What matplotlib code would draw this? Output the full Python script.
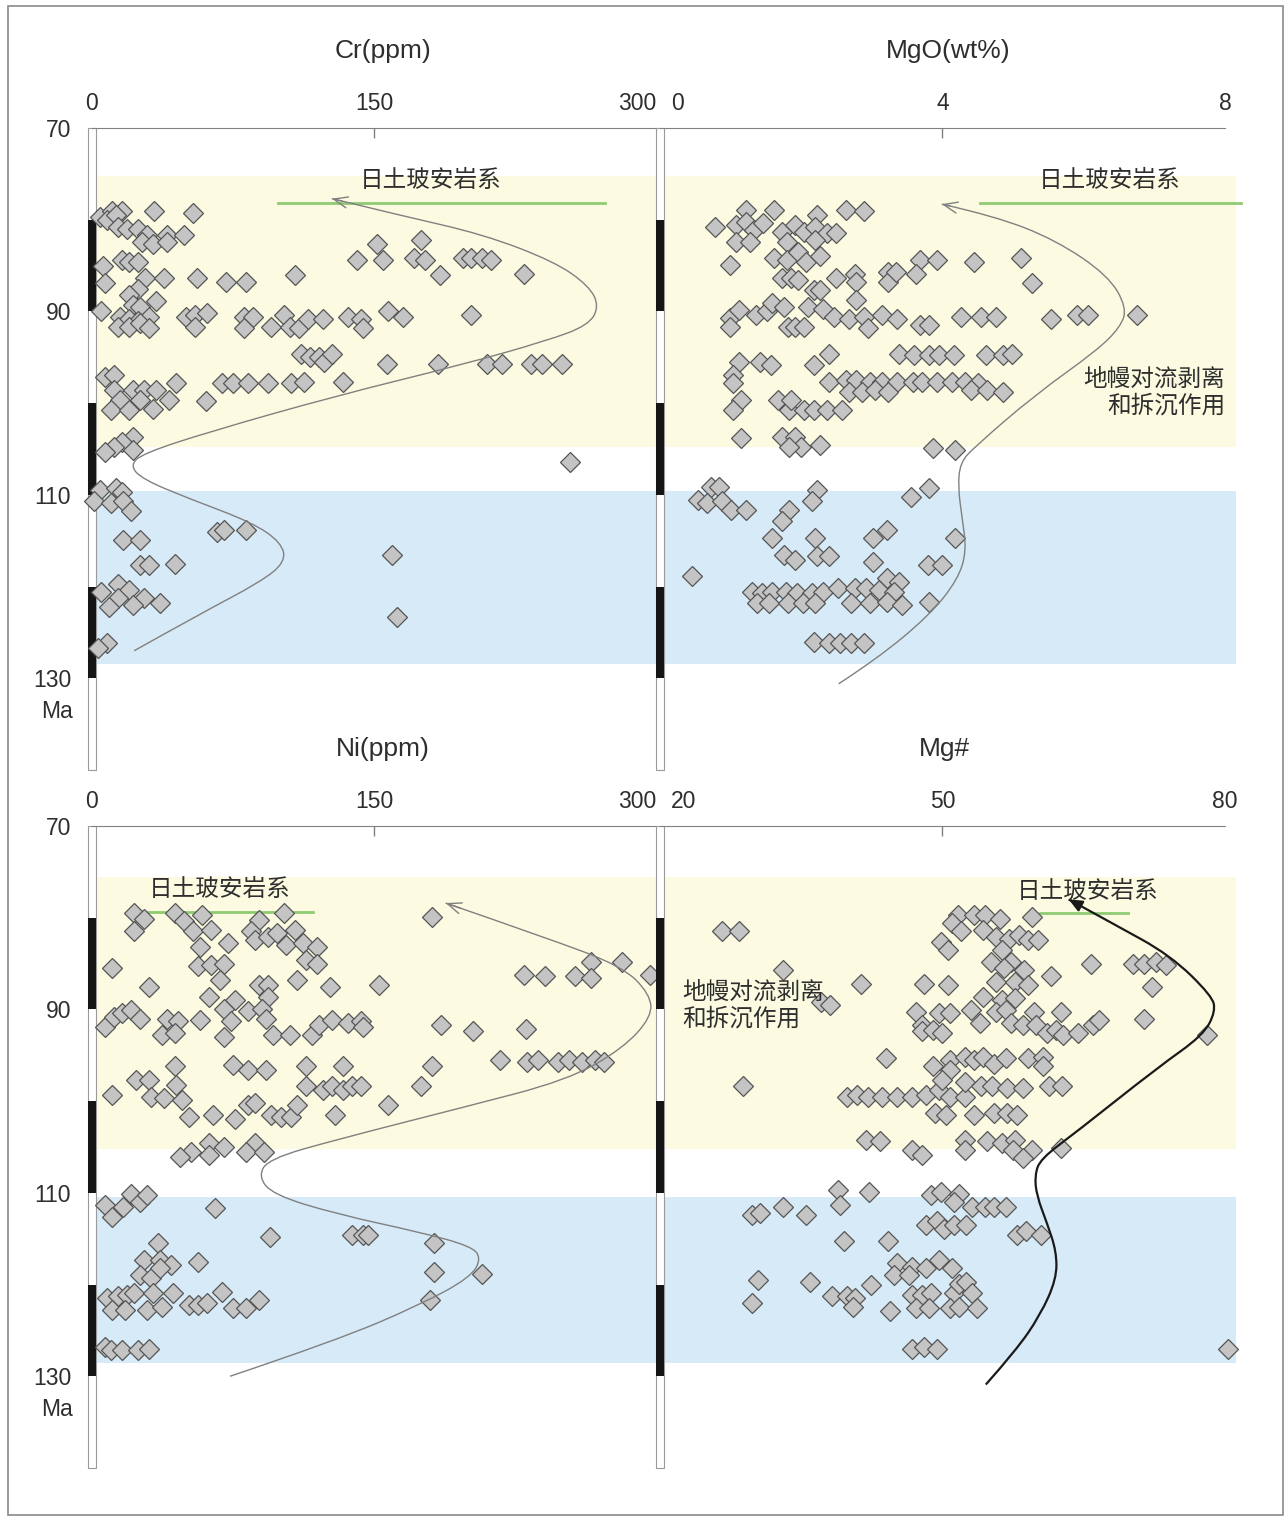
import matplotlib
matplotlib.use('Agg')
import matplotlib.pyplot as plt
from matplotlib.patches import Rectangle, PathPatch
from matplotlib.path import Path
from matplotlib import transforms

plt.rcParams['font.family'] = ['Liberation Sans', 'Noto Sans CJK SC', 'DejaVu Sans']

# ---------------- data ----------------
cr_ppm = [
	4.1, 10.9, 15.7, 8.0, 12.8, 33.2, 53.6,
	13.8, 18.7, 24.5, 29.3, 26.4, 32.3, 40.0, 40.0, 48.8,
	6.0, 15.7, 19.6, 24.5, 141.1, 151.8, 154.7, 175.1, 171.3, 177.1, 184.9, 197.5, 201.4, 207.2, 212.1, 229.6,
	7.0, 28.4, 38.1, 55.6, 71.2, 81.8, 108.1, 24.5,
	19.6, 34.2, 5.0, 21.6, 25.5,
	14.8, 19.6, 24.5, 30.3, 13.8, 19.6, 25.5, 30.3, 49.8, 54.6, 61.4, 54.6, 80.9, 85.7, 80.9, 95.4, 102.3,
	105.2, 110.0, 114.9, 122.7, 136.3, 143.1, 144.1, 157.7, 165.4, 201.4,
	111.0, 115.9, 120.7, 123.6, 127.5, 156.7, 183.9, 210.1, 217.9, 233.5, 239.3, 250.0,
	7.0, 11.9, 44.9, 69.2, 75.0, 82.8, 93.5, 106.1, 113.0, 133.4, 11.9, 21.6, 27.4, 34.2,
	14.8, 25.5, 41.0, 60.5, 9.9, 19.6, 32.3,
	21.6, 15.7, 11.9, 7.0, 21.6,
	254.5, 4.1, 12.8, 15.7, 1.2, 9.9, 16.7, 20.6, 16.7, 25.5, 66.3, 70.2, 81.8, 25.5, 30.3, 44.0,
	159.6, 13.8, 5.0, 19.6, 13.8, 27.4, 9.0, 21.6, 36.2, 162.5, 8.0, 3.1,
]
cr_age = [
	79.7, 79.1, 79.1, 80.0, 79.5, 79.1, 79.3,
	80.8, 81.0, 81.0, 81.7, 82.4, 82.6, 81.7, 82.4, 81.7,
	85.0, 84.4, 84.6, 84.6, 84.4, 82.6, 84.4, 82.2, 84.2, 84.4, 86.0, 84.2, 84.2, 84.2, 84.4, 85.9,
	86.9, 86.4, 86.4, 86.4, 86.8, 86.8, 86.0, 87.5,
	88.2, 88.9, 90.0, 89.3, 89.5,
	90.6, 90.8, 91.0, 90.6, 91.7, 91.7, 91.3, 91.8, 90.6, 90.4, 90.2, 91.7, 90.6, 90.6, 91.8, 91.7, 90.4,
	91.7, 91.8, 90.8, 90.8, 90.6, 90.8, 91.8, 90.0, 90.6, 90.4,
	94.6, 95.0, 95.0, 95.5, 94.6, 95.7, 95.7, 95.7, 95.7, 95.7, 95.7, 95.7,
	97.1, 96.9, 97.8, 97.8, 97.8, 97.8, 97.8, 97.8, 97.7, 97.7, 98.6, 98.6, 98.6, 98.6,
	99.7, 99.7, 99.7, 99.8, 100.8, 100.8, 100.6,
	103.7, 104.2, 104.8, 105.3, 105.1,
	106.4, 109.5, 109.3, 109.7, 110.7, 110.9, 110.7, 111.8, 114.9, 114.9, 114.0, 113.8, 113.8, 117.6, 117.6, 117.5,
	116.6, 119.7, 120.6, 120.4, 121.3, 121.3, 122.2, 122.0, 121.8, 123.3, 126.2, 126.7,
]

mgo_wt = [
	0.78, 1.22, 1.07, 1.22, 1.33, 1.46, 1.62, 1.07, 1.28, 1.73, 1.91, 2.04, 2.23, 2.20, 2.36, 2.49, 1.80, 2.20, 2.63, 2.89,
	0.99, 1.62, 1.80, 1.96, 2.07, 2.26, 3.68, 3.92, 4.45, 5.11,
	1.73, 1.86, 1.96, 2.18, 2.26, 2.49, 2.76, 2.78, 2.78, 3.23, 3.23, 3.34, 3.63, 5.27,
	0.99, 0.99, 1.12, 1.36, 1.52, 1.59, 1.75, 1.81, 1.91, 2.04, 2.10, 2.31, 2.47, 2.68, 2.89, 2.94, 3.15, 3.36,
	3.68, 3.81, 4.26, 4.55, 4.76, 5.53, 5.90, 6.06, 6.75,
	1.12, 1.41, 1.57, 2.18, 2.39, 3.39, 3.60, 3.81, 3.95, 4.16, 4.61, 4.85, 4.98,
	1.04, 1.04, 2.39, 2.63, 2.78, 2.97, 3.15, 3.36, 3.58, 3.71, 3.92, 4.13, 4.32, 4.50, 2.68, 2.86, 3.05, 3.23,
	4.40, 4.63, 4.85,
	1.15, 1.04, 1.67, 1.83, 2.04, 2.18, 2.36, 2.57, 1.86,
	1.14, 1.73, 1.91, 1.99, 2.26, 1.83, 3.87, 4.18,
	0.72, 0.83, 0.54, 0.67, 0.88, 1.01, 1.22, 2.23, 2.15, 1.83, 1.73, 3.55, 3.81, 1.59, 2.20, 3.02, 3.21, 4.18,
	1.75, 1.91, 2.23, 2.39, 3.02, 3.79, 4.00, 0.46,
	1.30, 1.44, 1.59, 1.78, 1.94, 2.15, 2.31, 2.52, 2.76, 2.92, 3.10, 3.21, 3.39, 3.31,
	1.38, 1.54, 1.81, 2.02, 2.20, 2.70, 2.97, 3.21, 3.42, 3.81,
	2.18, 2.39, 2.55, 2.70, 2.89,
]
mgo_age = [
	80.8, 78.9, 80.6, 80.2, 81.1, 80.4, 78.9, 82.4, 82.4, 81.3, 80.6, 81.3, 79.5, 80.8, 81.5, 81.5, 82.4, 82.2, 78.9, 79.1,
	84.9, 84.2, 84.4, 83.5, 84.6, 84.0, 84.4, 84.4, 84.6, 84.2,
	86.4, 86.4, 86.6, 87.7, 87.7, 86.4, 85.9, 86.8, 88.8, 85.7, 86.8, 85.7, 85.9, 86.9,
	90.7, 91.7, 89.8, 90.4, 90.0, 89.1, 89.5, 91.7, 91.7, 91.7, 89.5, 89.7, 90.6, 90.8, 90.6, 91.8, 90.4, 90.8,
	91.5, 91.5, 90.6, 90.6, 90.6, 90.8, 90.4, 90.4, 90.4,
	95.5, 95.5, 95.8, 95.8, 94.6, 94.6, 94.8, 94.8, 94.8, 94.8, 94.8, 94.8, 94.6,
	96.9, 97.8, 97.7, 97.5, 97.5, 97.7, 97.7, 97.7, 97.7, 97.7, 97.7, 97.7, 97.7, 97.8, 98.8, 98.8, 98.6, 98.8,
	98.6, 98.6, 98.8,
	99.7, 100.8, 99.7, 100.8, 100.8, 100.8, 100.8, 100.8, 99.7,
	103.8, 103.7, 103.7, 104.8, 104.6, 104.8, 104.9, 105.1,
	109.1, 109.1, 110.6, 110.9, 110.7, 111.7, 111.7, 109.5, 110.7, 111.7, 112.9, 110.2, 109.3, 114.7, 114.7, 114.7, 113.8, 114.7,
	116.6, 117.1, 116.7, 116.7, 117.3, 117.7, 117.7, 118.9,
	120.6, 120.7, 120.6, 120.6, 120.7, 120.7, 120.6, 120.2, 120.2, 120.2, 120.4, 119.1, 119.5, 120.6,
	121.8, 121.8, 121.8, 121.8, 121.8, 121.8, 121.8, 121.7, 122.0, 121.7,
	126.0, 126.2, 126.2, 126.2, 126.2,
]

ni_ppm = [
	22.5, 27.4, 22.5, 44.0, 48.8, 58.5, 53.6, 63.4, 57.5, 72.1, 56.6, 63.4, 70.2, 88.6, 102.3, 84.8, 86.7,
	93.5, 98.4, 108.1, 103.2, 112.0, 119.7, 113.9, 119.7, 181.0,
	10.9, 30.3, 68.2, 88.6, 93.5, 109.1, 126.6, 152.8, 62.4, 76.0, 93.5, 70.2, 82.8, 90.6,
	229.6, 241.2, 256.8, 265.5, 265.5, 282.0, 296.6,
	7.0, 11.9, 15.7, 20.6, 25.5, 40.0, 45.9, 37.1, 44.0, 57.5, 74.1, 70.2, 92.5, 96.4, 105.2, 116.8, 120.7,
	127.5, 136.3, 143.1, 144.1, 185.8, 202.4, 230.6,
	44.0, 75.0, 82.8, 92.5, 113.9, 133.4, 181.0, 217.0, 231.5, 237.4, 248.0, 253.9, 260.7, 267.5, 272.4,
	10.9, 23.5, 30.3, 31.3, 38.1, 44.9, 47.8, 113.9, 122.7, 127.5, 133.4, 138.2, 143.1, 175.1,
	51.7, 64.3, 76.0, 82.8, 86.7, 95.4, 100.3, 106.1, 109.1, 129.5, 157.7,
	52.7, 62.4, 70.2, 62.4, 86.7, 81.8, 91.6, 46.8,
	7.0, 10.9, 16.7, 20.6, 25.5, 29.3, 65.3, 94.5, 138.2, 144.1, 147.0, 182.0, 182.0, 207.2, 180.0,
	35.2, 27.4, 36.2, 42.0, 25.5, 31.3, 36.2, 56.6,
	8.0, 13.8, 18.7, 22.5, 32.3, 42.9, 10.9, 17.7, 29.3, 37.1, 51.7, 56.6, 61.4, 69.2, 75.0, 81.8, 88.6,
	7.0, 9.9, 15.7, 24.5, 30.3,
]
ni_age = [
	79.5, 80.1, 81.5, 79.5, 80.4, 79.7, 81.5, 81.3, 83.2, 82.8, 85.3, 85.2, 85.0, 80.3, 79.5, 81.5, 82.4,
	82.1, 81.7, 81.3, 83.0, 82.8, 83.2, 84.6, 85.0, 79.9,
	85.5, 87.5, 86.8, 87.3, 87.3, 86.8, 87.5, 87.3, 88.6, 89.0, 88.6, 89.9, 90.2, 89.9,
	86.3, 86.4, 86.4, 84.8, 86.6, 84.8, 86.3,
	91.9, 90.8, 90.4, 90.1, 91.0, 91.0, 91.3, 92.8, 92.6, 91.2, 91.3, 93.0, 91.0, 92.8, 92.8, 92.8, 91.7,
	91.2, 91.5, 91.3, 91.9, 91.7, 92.4, 92.1,
	96.2, 96.1, 96.6, 96.6, 96.2, 96.2, 96.2, 95.5, 95.7, 95.5, 95.7, 95.5, 95.7, 95.5, 95.7,
	99.3, 97.7, 97.7, 99.5, 99.7, 98.2, 99.9, 98.4, 98.8, 98.4, 98.8, 98.4, 98.4, 98.4,
	101.7, 101.5, 101.9, 100.4, 100.2, 101.5, 101.7, 101.7, 100.4, 101.5, 100.4,
	105.5, 104.6, 105.0, 105.9, 104.6, 105.5, 105.5, 106.1,
	111.3, 112.6, 111.5, 110.1, 111.0, 110.2, 111.7, 114.8, 114.6, 114.6, 114.6, 115.5, 118.6, 118.8, 121.7,
	115.5, 117.3, 117.3, 117.9, 119.0, 119.3, 118.2, 117.5,
	121.5, 121.3, 121.1, 120.9, 120.9, 120.9, 122.8, 122.8, 122.8, 122.4, 122.2, 122.2, 122.0, 120.8, 122.6, 122.6, 121.7,
	126.8, 127.1, 127.1, 127.1, 127.0,
]

mgnum = [
	26.6, 28.4, 33.1, 41.3, 48.0, 50.6, 37.1, 38.1, 28.8, 44.0,
	51.6, 53.3, 54.5, 56.1, 59.5, 51.0, 52.0, 54.3, 55.7, 57.1, 58.1, 59.1, 60.1, 49.8, 50.6, 56.3, 55.1,
	57.3, 58.7, 56.5, 61.5, 65.8, 70.2, 71.4, 72.7, 73.7, 72.2, 71.4, 78.1,
	55.7, 57.7, 59.1, 54.3, 56.3, 57.7,
	47.2, 49.6, 50.8, 53.0, 54.0, 55.7, 56.7, 59.7, 62.6, 47.8, 47.8, 49.0, 50.0, 57.3, 58.5, 59.9, 61.1,
	62.1, 62.8, 64.4, 66.0, 66.6,
	49.0, 50.8, 50.8, 52.4, 53.3, 54.3, 55.5, 56.7, 59.1, 60.7, 60.7,
	39.9, 40.9, 42.1, 43.6, 45.2, 46.8, 48.2, 49.6, 50.8, 52.4, 50.0, 52.4, 54.1, 55.3, 56.9, 58.5, 61.3, 62.7,
	49.2, 50.4, 53.3, 55.5, 56.9, 57.9,
	41.9, 43.4, 46.8, 47.8, 52.4, 52.4, 54.7, 56.3, 57.7, 57.5, 59.5, 62.6, 58.5,
	38.9, 42.2, 39.1, 48.8, 49.8, 51.8, 51.2, 53.1, 54.5, 55.5, 56.7, 29.8, 30.6, 33.1, 35.5,
	48.2, 49.4, 50.2, 51.2, 52.5, 57.9, 58.9, 60.5, 39.5, 44.2,
	45.2, 46.8, 44.8, 46.4, 48.2, 49.6, 51.0, 30.4, 35.9, 42.4,
	38.3, 39.9, 40.7, 40.5, 29.8, 44.4, 46.8, 47.8, 48.8, 47.2, 48.6, 51.2, 51.8, 52.5, 53.1, 50.8, 51.8, 53.7,
	46.8, 48.0, 49.4, 80.3,
]
mgnum_age = [
	81.5, 81.5, 85.7, 87.2, 87.2, 87.3, 89.2, 89.5, 98.4, 95.3,
	79.7, 79.7, 79.7, 80.1, 79.9, 80.6, 81.5, 81.3, 82.1, 82.3, 81.9, 82.4, 82.4, 82.6, 83.5, 83.5, 84.8,
	84.8, 85.7, 85.5, 86.4, 85.0, 85.0, 85.0, 84.8, 85.2, 87.5, 91.0, 92.8,
	87.0, 87.0, 87.3, 88.6, 89.0, 88.8,
	90.3, 90.4, 90.4, 90.1, 91.5, 90.3, 90.1, 90.3, 90.3, 91.7, 92.4, 92.2, 92.6, 91.5, 91.7, 91.7, 92.6,
	92.2, 92.8, 92.6, 91.7, 91.2,
	96.2, 95.5, 96.6, 95.2, 95.5, 95.2, 95.9, 95.3, 95.3, 95.2, 96.2,
	99.5, 99.3, 99.5, 99.5, 99.5, 99.5, 99.3, 98.8, 99.5, 99.5, 97.7, 97.9, 98.4, 98.4, 98.6, 98.6, 98.4, 98.4,
	101.3, 101.5, 101.5, 101.3, 101.3, 101.5,
	104.2, 104.4, 105.3, 105.9, 104.2, 105.3, 104.4, 104.6, 104.2, 105.3, 105.3, 105.1, 106.2,
	109.7, 109.9, 111.3, 110.2, 109.9, 110.1, 111.0, 111.5, 111.5, 111.5, 111.5, 112.4, 112.2, 111.5, 112.4,
	113.5, 113.1, 113.9, 113.5, 113.5, 114.6, 114.2, 114.6, 115.3, 115.3,
	117.7, 118.1, 119.0, 119.0, 118.2, 117.3, 118.2, 119.5, 119.7, 120.1,
	121.3, 121.3, 121.5, 122.4, 122.0, 122.9, 121.1, 121.1, 120.9, 122.6, 122.6, 120.9, 119.9, 119.7, 120.9, 122.6, 122.4, 122.6,
	127.0, 126.8, 127.0, 127.0,
]

# trend curves (control points, oldest first, arrow at the young end)
cr_curve = [22.4, 58.2, 89.6, 103.0, 100.7, 85.1, 51.5, 26.9, 20.2, 26.9, 62.7, 129.9, 197.0, 241.8, 264.2, 269.8, 264.2, 246.3, 208.2, 163.4, 127.6]
cr_curve_age = [127.0, 122.9, 119.5, 117.3, 115.2, 113.0, 110.4, 108.3, 106.8, 105.5, 103.1, 99.2, 95.8, 93.2, 91.5, 89.4, 87.2, 84.6, 81.6, 79.5, 77.7]
mgo_curve = [2.53, 3.07, 3.82, 4.22, 4.34, 4.28, 4.22, 4.25, 4.45, 5.31, 6.18, 6.52, 6.61, 6.35, 5.60, 4.74, 3.99]
mgo_curve_age = [130.6, 127.9, 123.1, 119.2, 116.1, 112.6, 109.2, 106.5, 104.8, 99.1, 94.3, 91.7, 89.6, 86.1, 82.2, 79.6, 78.3]
ni_curve = [73.4, 129.9, 174.6, 201.5, 207.1, 201.5, 174.6, 129.9, 96.3, 88.4, 94.0, 129.9, 197.0, 253.0, 282.1, 297.8, 296.7, 282.1, 241.8, 188.1]
ni_curve_age = [130.0, 126.1, 122.2, 119.2, 117.1, 115.8, 114.3, 112.3, 110.2, 108.2, 106.3, 104.2, 100.7, 97.7, 94.3, 90.8, 88.3, 85.3, 82.2, 78.4]
mgnum_curve = [54.6, 57.8, 60.4, 62.1, 62.1, 61.1, 60.0, 59.8, 60.4, 64.3, 72.9, 77.7, 79.0, 78.6, 74.2, 68.2, 63.4]
mgnum_curve_age = [130.9, 127.2, 123.3, 119.4, 116.4, 113.3, 110.3, 108.1, 106.3, 103.3, 96.3, 92.8, 90.2, 88.5, 84.1, 80.7, 78.0]

age_ticks = [70, 90, 110, 130]
black_blocks = [80, 100, 120]
rock_label = '日土玻安岩系'
process_label = '地幔对流剥离\n和拆沉作用'

YELLOW = '#fcfbe1'
BLUE = '#d6eaf7'
GREEN = '#8fcb72'
TXT = '#2e2e2e'

W, H = 1286.0, 1517.0
fig = plt.figure(figsize=(W / 100, H / 100), dpi=100)


def smooth(xs, ys):
	# quadratic bezier through mid points of the control polygon
	verts = [(xs[0], ys[0])]
	codes = [Path.MOVETO]
	n = len(xs)
	for i in range(1, n - 1):
		if i < n - 2:
			end = ((xs[i] + xs[i + 1]) / 2.0, (ys[i] + ys[i + 1]) / 2.0)
		else:
			end = (xs[-1], ys[-1])
		verts += [(xs[i], ys[i]), end]
		codes += [Path.CURVE3, Path.CURVE3]
	return Path(verts, codes)


def panel(px, xs, ages, xlim, ticks, title, title_x, curve, curve_age, green, rock_at,
		yellow, blue, left, process_at=None, process_ha='left', dark=False):
	x0, y0, w, h = px
	ax = fig.add_axes([x0 / W, (H - y0 - h) / H, w / W, h / H])
	ax.set_xlim(*xlim)
	ax.set_ylim(140, 70)
	ax.axhspan(yellow[0], yellow[1], color=YELLOW, lw=0, zorder=0)
	ax.axhspan(blue[0], blue[1], color=BLUE, lw=0, zorder=0)

	for s in ['left', 'right', 'bottom']:
		ax.spines[s].set_visible(False)
	ax.spines['top'].set_color('#808080')
	ax.spines['top'].set_bounds(ticks[0], ticks[-1])
	ax.xaxis.tick_top()
	ax.set_xticks([ticks[1]])
	ax.set_xticklabels([])
	ax.tick_params(axis='x', direction='in', length=7, width=1, color='#808080')

	# tick labels, end ones pulled inside so neighbouring panels don't collide
	trx = transforms.blended_transform_factory(ax.transData, ax.transAxes)
	for i, t in enumerate(ticks):
		ha = 'center'
		tr = trx
		if i == 2 and left:
			ha = 'right'
		if i == 0 and not left:
			ha = 'left'
			tr = trx + transforms.ScaledTranslation(0.11, 0, fig.dpi_scale_trans)
		ax.text(t, 1 + 24 / h, str(t), transform=tr, ha=ha, va='center',
			fontsize=16.5, color=TXT)

	if left:
		ax.set_yticks(age_ticks)
		ax.tick_params(axis='y', length=0, pad=15, labelsize=16.5, labelcolor=TXT)
		ax.text(-35 / w, 133.6, 'Ma', transform=transforms.blended_transform_factory(ax.transAxes, ax.transData),
			ha='center', va='center', fontsize=16.5, color=TXT)
	else:
		ax.set_yticks([])

	ax.text(title_x, 1 + 77 / h, title, transform=ax.transAxes, ha='center', va='center',
		fontsize=19, color=TXT)

	# age scale bar
	tra = transforms.blended_transform_factory(ax.transAxes, ax.transData)
	bw = 8 / w
	ax.add_patch(Rectangle((-bw / 2, 70), bw, 70, transform=tra, fc='white', ec='#9a9a9a',
		lw=0.8, clip_on=False, zorder=2))
	for a in black_blocks:
		ax.add_patch(Rectangle((-bw / 2, a), bw, 10, transform=tra, fc='#151515', ec='none',
			clip_on=False, zorder=2))

	ax.plot(xs, ages, ls='none', marker='D', ms=10, mfc='#c4c4c4', mec='#555555', mew=0.9,
		zorder=3, clip_on=False)

	ax.plot(green[:2], [green[2], green[2]], color=GREEN, lw=2, zorder=2, clip_on=False)
	ax.text(rock_at[0], rock_at[1], rock_label, ha='center', va='center', fontsize=17,
		color=TXT, zorder=5)
	if process_at is not None:
		ax.text(process_at[0], process_at[1], process_label, ha=process_ha, va='center',
			fontsize=17, color=TXT, linespacing=1.2, zorder=5, multialignment=process_ha)

	col = '#1a1a1a' if dark else '#808080'
	lw = 1.6 if dark else 1.0
	ax.add_patch(PathPatch(smooth(curve, curve_age), fill=False, ec=col, lw=lw, zorder=4))
	tip = (curve[-1], curve_age[-1])
	back = (curve[-1] + 0.15 * (curve[-2] - curve[-1]), curve_age[-1] + 0.15 * (curve_age[-2] - curve_age[-1]))
	style = '-|>,head_length=0.8,head_width=0.35' if dark else '->,head_length=1.0,head_width=0.4'
	ax.annotate('', xy=tip, xytext=back, zorder=4,
		arrowprops=dict(arrowstyle=style, color=col, lw=lw, shrinkA=0, shrinkB=0))
	return ax


panel((92, 128, 564, 642), cr_ppm, cr_age, (0, 300), [0, 150, 300], 'Cr(ppm)', 0.516,
	cr_curve, cr_curve_age, (99, 273, 78.2), (180, 75.8), (75.2, 104.8), (109.6, 128.4), True)
panel((660, 128, 576, 642), mgo_wt, mgo_age, (0, 8.156), [0, 4, 8], 'MgO(wt%)', 0.5,
	mgo_curve, mgo_curve_age, (4.53, 8.22, 78.2), (6.37, 75.8), (75.2, 104.8), (109.6, 128.4), False,
	process_at=(8.0, 98.9), process_ha='right')
panel((92, 826, 564, 642), ni_ppm, ni_age, (0, 300), [0, 150, 300], 'Ni(ppm)', 0.516,
	ni_curve, ni_curve_age, (29, 117.5, 79.4), (68, 77.0), (75.6, 105.2), (110.5, 128.6), True)
panel((660, 826, 576, 642), mgnum, mgnum_age, (20, 81.17), [20, 50, 80], 'Mg#', 0.494,
	mgnum_curve, mgnum_curve_age, (60.4, 69.7, 79.5), (65.4, 77.2), (75.6, 105.2), (110.5, 128.6), False,
	process_at=(22.4, 89.6), process_ha='left', dark=True)

# outer frame
fig.add_artist(Rectangle((8 / W, 2 / H), 1275 / W, 1509 / H, transform=fig.transFigure,
	fill=False, ec='#8a8a8a', lw=1.2))

fig.savefig('out.png', dpi=100)
